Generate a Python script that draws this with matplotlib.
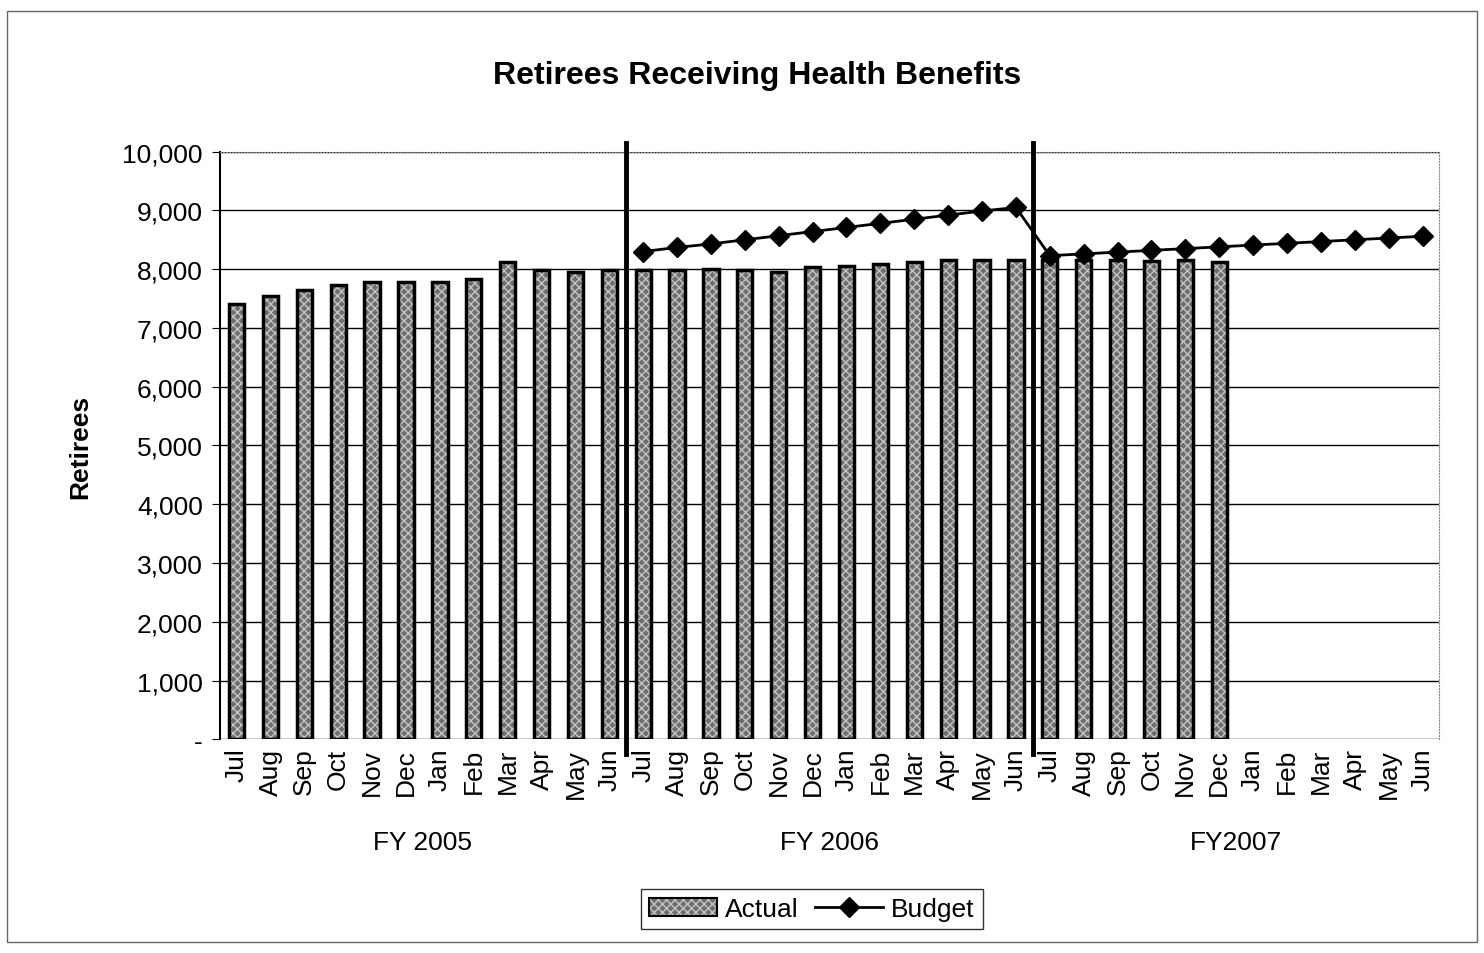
import matplotlib.pyplot as plt
import numpy as np
from matplotlib.patches import Rectangle, Patch

months = ["Jul", "Aug", "Sep", "Oct", "Nov", "Dec",
          "Jan", "Feb", "Mar", "Apr", "May", "Jun"]
fiscal_years = ["FY 2005", "FY 2006", "FY2007"]

# actual retirees, Jul 2004 .. Dec 2006
actual_fy2005 = [7400, 7550, 7650, 7730, 7780, 7790, 7780, 7830, 8120, 7990, 7950, 7980]
actual_fy2006 = [7980, 7990, 8000, 7990, 7950, 8030, 8060, 8090, 8130, 8150, 8150, 8160]
actual_fy2007 = [8150, 8150, 8150, 8140, 8150, 8130]

# budget, starts in FY 2006
budget_fy2006 = [8300, 8370, 8430, 8500, 8570, 8640, 8710, 8780, 8850, 8920, 8990, 9050]
budget_fy2007 = [8230, 8260, 8290, 8320, 8350, 8380, 8410, 8440, 8470, 8500, 8530, 8560]

yticks = [0, 1000, 2000, 3000, 4000, 5000, 6000, 7000, 8000, 9000, 10000]
ytick_labels = ["-", "1,000", "2,000", "3,000", "4,000", "5,000", "6,000",
                "7,000", "8,000", "9,000", "10,000"]

plt.rcParams['font.family'] = ['Liberation Sans', 'DejaVu Sans']

actual = actual_fy2005 + actual_fy2006 + actual_fy2007
budget = budget_fy2006 + budget_fy2007
labels = months * 3
n = len(labels)

fig = plt.figure(figsize=(14.84, 9.54), dpi=100)
ax = fig.add_axes([0.148, 0.224, 0.822, 0.616])

fill_col = '#6e6e6e'
hatch_col = '#c4c4c4'

x_act = np.arange(len(actual))
# patterned gray fill, then black outline
ax.bar(x_act, actual, width=0.45, color=fill_col, edgecolor=hatch_col,
       hatch='xxxx', linewidth=0, zorder=3)
ax.bar(x_act, actual, width=0.45, color='none', edgecolor='black',
       linewidth=2.5, zorder=4)

x_bud = np.arange(12, 12 + len(budget))
line, = ax.plot(x_bud, budget, color='black', lw=2, marker='D', markersize=10,
                zorder=5)

ax.set_xlim(-0.5, n - 0.5)
ax.set_ylim(0, 10000)
ax.set_yticks(yticks)
ax.set_yticklabels(ytick_labels, fontsize=19)
ax.set_xticks(np.arange(n))
ax.set_xticklabels(labels, rotation=90, fontsize=19)
ax.tick_params(axis='x', length=0, pad=6)
ax.tick_params(axis='y', length=6, direction='out', pad=6)
ax.grid(axis='y', color='black', lw=1, zorder=0)
ax.set_axisbelow(True)

for side in ['top', 'right']:
    ax.spines[side].set_color('#888888')
    ax.spines[side].set_linestyle(':')
ax.spines['left'].set_linewidth(1.5)
ax.spines['bottom'].set_visible(False)

# fiscal year separators
for xs in [11.5, 23.5]:
    ax.plot([xs, xs], [-250, 10150], color='black', lw=3.5, zorder=6,
            clip_on=False)

for i, fy in enumerate(fiscal_years):
    ax.text(i * 12 + 5.5, -1750, fy, ha='center', va='center', fontsize=19)

ax.set_ylabel("Retirees", fontsize=19, fontweight='bold', labelpad=22)
fig.text(0.51, 0.92, "Retirees Receiving Health Benefits", ha='center',
         va='center', fontsize=23, fontweight='bold')

act_fill = Patch(facecolor=fill_col, edgecolor=hatch_col, hatch='xxxx', lw=0)
act_edge = Patch(facecolor='none', edgecolor='black', lw=1.5)
leg = fig.legend([(act_fill, act_edge), line], ["Actual", "Budget"],
                 loc='center', bbox_to_anchor=(0.547, 0.046), ncol=2,
                 fontsize=19, frameon=True, fancybox=False, edgecolor='black',
                 handlelength=2.6, columnspacing=0.6, handletextpad=0.3,
                 borderpad=0.3)
leg.get_frame().set_linewidth(1)

fig.patches.append(Rectangle((0.005, 0.012), 0.99, 0.975, transform=fig.transFigure,
                             fill=False, edgecolor='#666666', lw=1))

fig.savefig("out.png", dpi=100)
